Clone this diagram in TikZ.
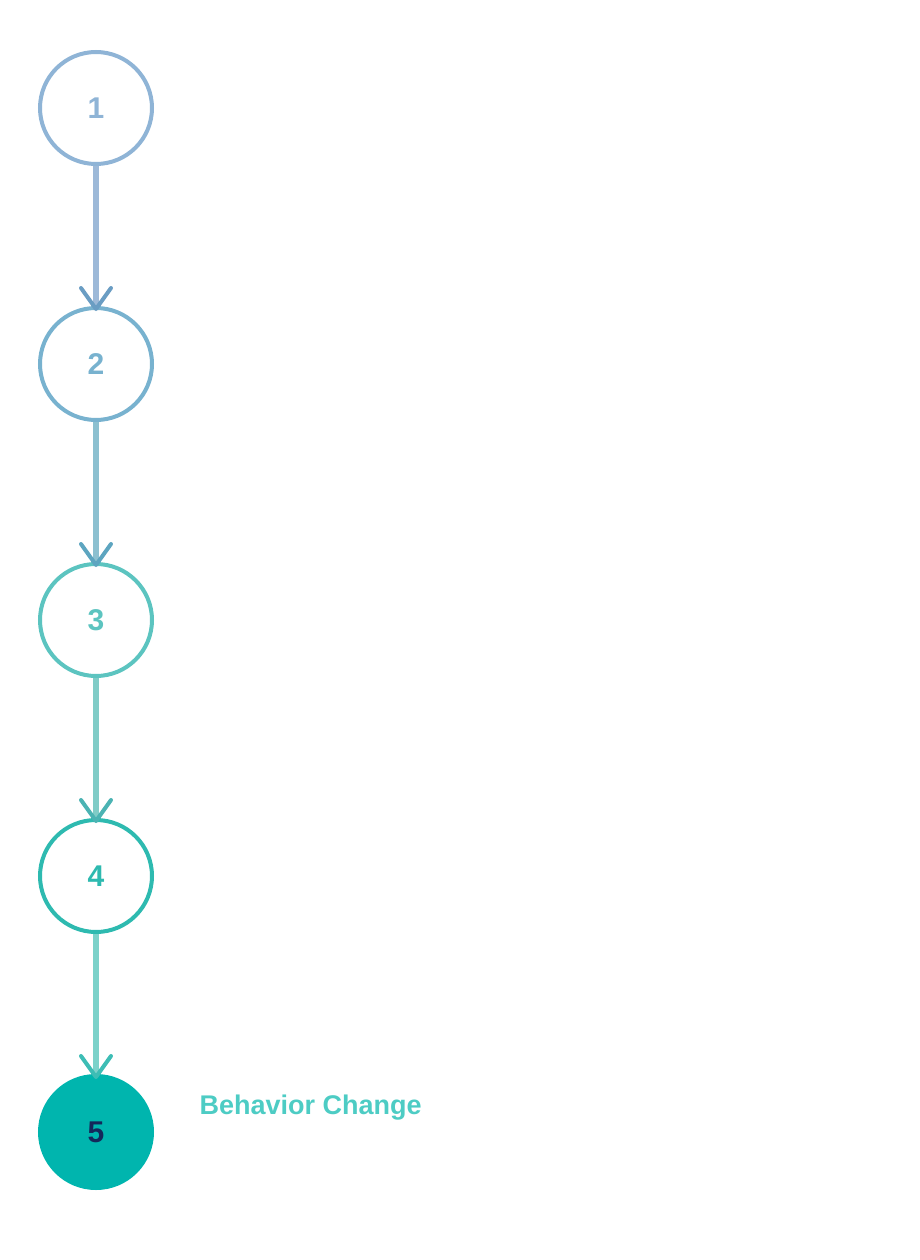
\documentclass[tikz,border=0pt]{standalone}
\usepackage{fontspec}
\setmainfont{Liberation Sans}
\begin{document}
\begin{tikzpicture}[x=1pt,y=-1pt,
  stepnode/.style={circle,minimum size=112pt,line width=4pt,inner sep=0pt,font=\fontsize{30}{36}\selectfont\bfseries,fill=white},
  conn/.style={line width=6pt},
  chev/.style={line width=4pt,line cap=round,line join=round}]
\useasboundingbox (0,0) rectangle (920,1260);
\definecolor{c1}{HTML}{8FB4D6}\definecolor{c2}{HTML}{78B2CF}\definecolor{c3}{HTML}{5CC4C0}\definecolor{c4}{HTML}{2EBAB0}\definecolor{c5}{HTML}{00B5AE}
\definecolor{l1}{HTML}{9DB9D8}\definecolor{l2}{HTML}{8CC0D0}\definecolor{l3}{HTML}{80CCC7}\definecolor{l4}{HTML}{7CD2CA}
\definecolor{a1}{HTML}{6A9DC3}\definecolor{a2}{HTML}{5DA5C0}\definecolor{a3}{HTML}{4BB3B3}\definecolor{a4}{HTML}{3DBDB5}
\node[stepnode,draw=c1,text=c1] (n1) at (96,108) {1};
\node[stepnode,draw=c2,text=c2] (n2) at (96,364) {2};
\node[stepnode,draw=c3,text=c3] (n3) at (96,620) {3};
\node[stepnode,draw=c4,text=c4] (n4) at (96,876) {4};
\node[stepnode,draw=c5,fill=c5,text={rgb,255:red,20;green,40;blue,90}] (n5) at (96,1132) {5};
\node[anchor=west,text={rgb,255:red,77;green,204;blue,196},font=\fontsize{27}{32}\selectfont\bfseries] (lab) at (196,1108) {Behavior Change};
\foreach \a/\b/\l/\c in {n1/n2/l1/a1,n2/n3/l2/a2,n3/n4/l3/a3,n4/n5/l4/a4}{
  \draw[conn,\l] (\a.south) -- (\b.north);
  \draw[chev,\c] ([shift={(-15,-18)}]\b.north) -- ([yshift=-3]\b.north) -- ([shift={(15,-18)}]\b.north);
}
\end{tikzpicture}
\end{document}
